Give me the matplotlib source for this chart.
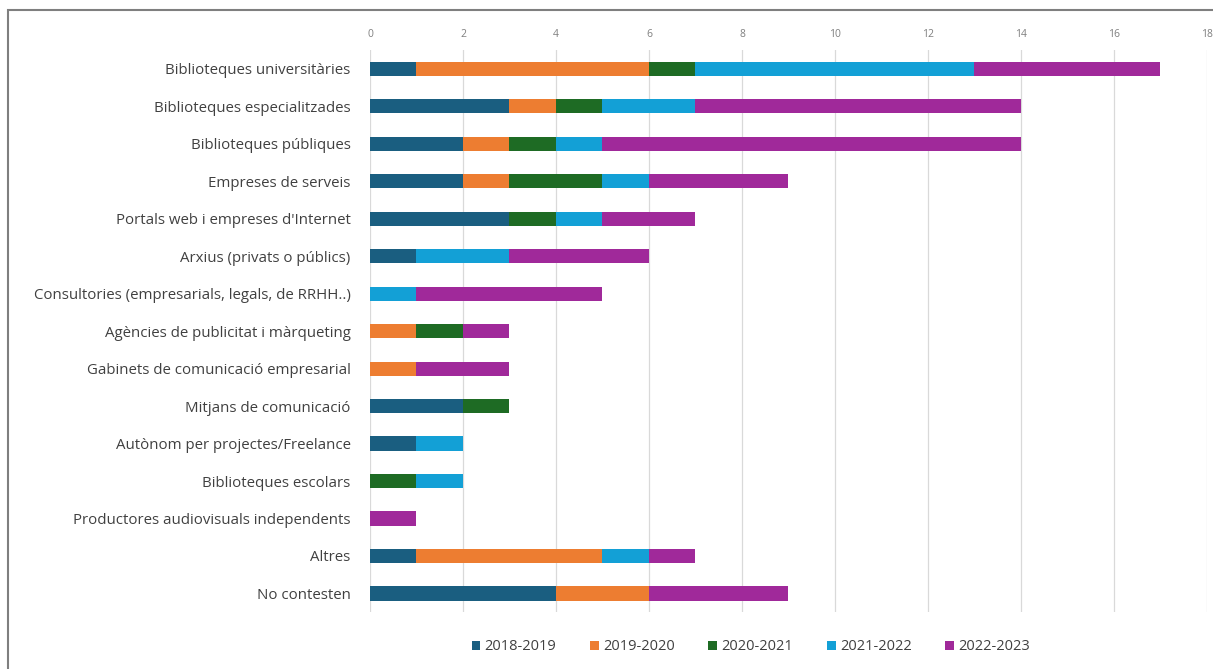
import matplotlib
matplotlib.use("Agg")
import matplotlib.pyplot as plt
from matplotlib.patches import Rectangle
import numpy as np

plt.rcParams['font.family'] = ['Open Sans', 'DejaVu Sans']

categories = [
    "Biblioteques universitàries",
    "Biblioteques especialitzades",
    "Biblioteques públiques",
    "Empreses de serveis",
    "Portals web i empreses d'Internet",
    "Arxius (privats o públics)",
    "Consultories (empresarials, legals, de RRHH..)",
    "Agències de publicitat i màrqueting",
    "Gabinets de comunicació empresarial",
    "Mitjans de comunicació",
    "Autònom per projectes/Freelance",
    "Biblioteques escolars",
    "Productores audiovisuals independents",
    "Altres",
    "No contesten",
]
years = ["2018-2019", "2019-2020", "2020-2021", "2021-2022", "2022-2023"]
v2018 = [1, 3, 2, 2, 3, 1, 0, 0, 0, 2, 1, 0, 0, 1, 4]
v2019 = [5, 1, 1, 1, 0, 0, 0, 1, 1, 0, 0, 0, 0, 4, 2]
v2020 = [1, 1, 1, 2, 1, 0, 0, 1, 0, 1, 0, 1, 0, 0, 0]
v2021 = [6, 2, 1, 1, 1, 2, 1, 0, 0, 0, 1, 1, 0, 1, 0]
v2022 = [4, 7, 9, 3, 2, 3, 4, 1, 2, 0, 0, 0, 1, 1, 3]
colors = ["#1a5e80", "#ed7d31", "#1e6b24", "#13a0d6", "#a0299a"]

series = [v2018, v2019, v2020, v2021, v2022]

fig = plt.figure(figsize=(12.13, 6.69), dpi=100)
ax = fig.add_axes([0.305, 0.085, 0.690, 0.84])

y = np.arange(len(categories))
left = np.zeros(len(categories))
for vals, lab, col in zip(series, years, colors):
    ax.barh(y, vals, left=left, height=0.38, color=col, label=lab, zorder=3)
    left += np.array(vals)

ax.set_ylim(len(categories) - 0.5, -0.5)
ax.set_yticks(y)
ax.set_yticklabels(categories, fontsize=10.8, color="#404040")
ax.set_xlim(0, 18)
ax.set_xticks(range(0, 19, 2))
ax.xaxis.tick_top()
ax.tick_params(axis='x', labelsize=7.5, colors="#7f7f7f", length=0, pad=7)
ax.tick_params(axis='y', length=0, pad=14)
ax.grid(axis='x', color="#d9d9d9", linewidth=0.9, zorder=0)
for s in ax.spines.values():
    s.set_visible(False)

ax.legend(loc='upper center', bbox_to_anchor=(0.455, -0.025),
          ncol=5, frameon=False, fontsize=10.5, handlelength=0.6, handleheight=0.6,
          handletextpad=0.3, columnspacing=2.3, labelcolor="#404040")

fig.patches.append(Rectangle((8 / 1213, -0.1), 1.2, 1 - 10 / 669 + 0.1,
                             transform=fig.transFigure, fill=False,
                             edgecolor="#7f7f7f", linewidth=1.5))

fig.savefig("out.png", dpi=100)
